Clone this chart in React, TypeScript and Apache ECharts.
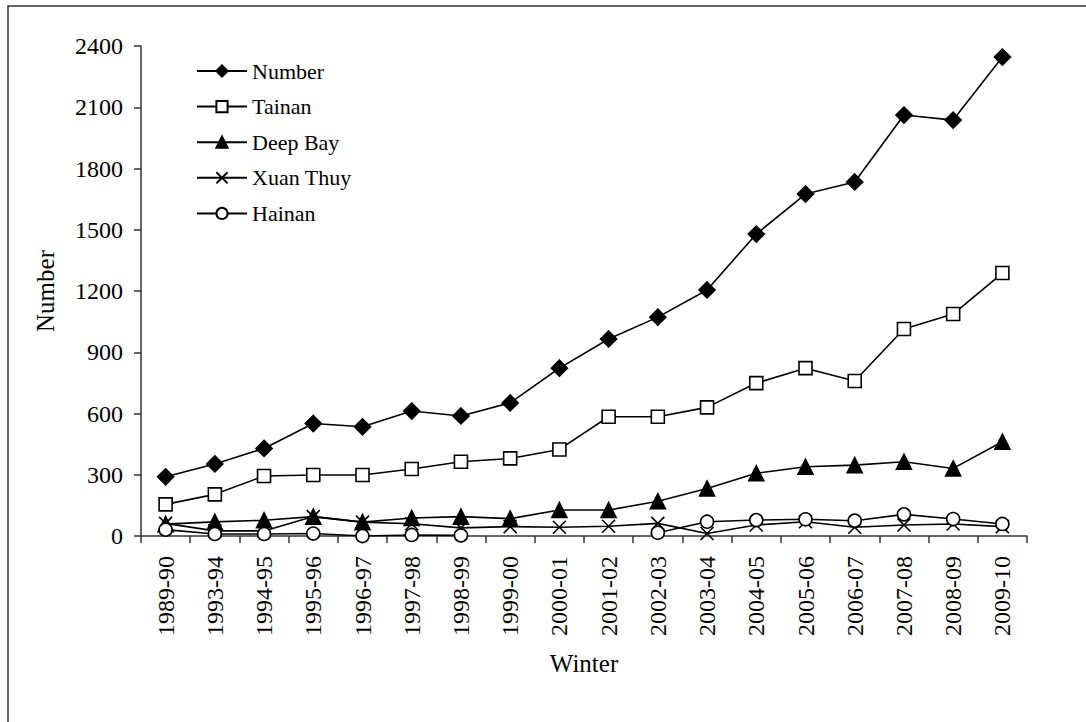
import React, { useEffect, useRef } from "react";
import * as echarts from "echarts";

const categories = [
  "1989-90", "1993-94", "1994-95", "1995-96", "1996-97", "1997-98", "1998-99", "1999-00", "2000-01",
  "2001-02", "2002-03", "2003-04", "2004-05", "2005-06", "2006-07", "2007-08", "2008-09", "2009-10",
];
const numberTotal = [290, 353, 429, 551, 535, 612, 588, 652, 822, 965, 1072, 1205, 1479, 1675, 1734, 2062, 2037, 2346];
const tainan = [155, 204, 294, 299, 299, 328, 364, 380, 424, 584, 584, 630, 749, 822, 759, 1014, 1087, 1288];
const deepBay = [58, 69, 77, 95, 68, 88, 95, 85, 127, 127, 170, 233, 307, 339, 347, 364, 331, 462];
const xuanThuy = [62, 25, 25, 95, 68, 60, 40, 46, 43, 48, 62, 12, 54, 70, 43, 54, 59, 46];
const hainan: (number | null)[] = [31, 10, 10, 12, 0, 5, 3, null, null, null, 16, 70, 78, 82, 75, 106, 83, 59];
const yTicks = { min: 0, max: 2400, interval: 300 };

const FONT = "Liberation Serif";
const crossPath = "path://M0,0L10,10M10,0L0,10";

export default function App() {
  const ref = useRef<HTMLDivElement>(null);
  useEffect(() => {
    if (!ref.current) return;
    const chart = echarts.init(ref.current, null, { renderer: "svg" });
    const mk = (name: string, data: (number | null)[], symbol: string, fill: string, size = 13) => ({
      name,
      type: "line",
      data,
      symbol,
      symbolSize: size,
      showAllSymbol: true,
      connectNulls: false,
      lineStyle: { color: "#000", width: 1.6 },
      itemStyle: { color: fill, borderColor: "#000", borderWidth: 1.6 },
      emphasis: { disabled: true },
    });
    chart.setOption({
      animation: false,
      backgroundColor: "#fff",
      textStyle: { fontFamily: FONT, color: "#000" },
      grid: { left: 141, right: 59, top: 46, bottom: 186, containLabel: false },
      legend: {
        orient: "vertical",
        left: 191,
        top: 55,
        itemWidth: 50,
        itemHeight: 14,
        itemGap: 13.6,
        textStyle: { fontFamily: FONT, fontSize: 22, color: "#000", lineHeight: 22 },
        data: ["Number", "Tainan", "Deep Bay", "Xuan Thuy", "Hainan"],
      },
      xAxis: {
        type: "category",
        data: categories,
        boundaryGap: true,
        name: "Winter",
        nameLocation: "middle",
        nameGap: 127,
        nameTextStyle: { fontFamily: FONT, fontSize: 25, color: "#000", verticalAlign: "middle" },
        axisLine: { lineStyle: { color: "#333", width: 1.5 } },
        axisTick: { show: true, length: 7, alignWithLabel: false, lineStyle: { color: "#333", width: 1.5 } },
        axisLabel: { rotate: 90, margin: 20, fontFamily: FONT, fontSize: 24, color: "#000", interval: 0 },
        splitLine: { show: false },
      },
      yAxis: {
        type: "value",
        min: yTicks.min,
        max: yTicks.max,
        interval: yTicks.interval,
        name: "Number",
        nameLocation: "middle",
        nameGap: 83,
        nameTextStyle: { fontFamily: FONT, fontSize: 25, color: "#000" },
        axisLine: { show: true, lineStyle: { color: "#333", width: 1.5 } },
        axisTick: { show: true, length: 7, lineStyle: { color: "#333", width: 1.5 } },
        axisLabel: {
          margin: 18,
          fontFamily: FONT,
          fontSize: 24,
          color: "#000",
          formatter: (v: number) => String(v),
        },
        splitLine: { show: false },
      },
      graphic: [
        {
          type: "polyline",
          shape: { points: [[8, 730], [8, 6], [1090, 6]] },
          style: { stroke: "#333", lineWidth: 1.5, fill: "none" },
          silent: true,
        },
      ],
      series: [
        mk("Number", numberTotal, "diamond", "#000", 16),
        mk("Tainan", tainan, "rect", "#fff", 13),
        mk("Deep Bay", deepBay, "triangle", "#000", 15),
        mk("Xuan Thuy", xuanThuy, crossPath, "#000", 13),
        mk("Hainan", hainan, "circle", "#fff", 13),
      ],
    });
    return () => chart.dispose();
  }, []);
  return (
    <div
      ref={ref}
      style={{ position: "fixed", left: 0, top: 0, width: 1086, height: 722, background: "#fff" }}
    />
  );
}
